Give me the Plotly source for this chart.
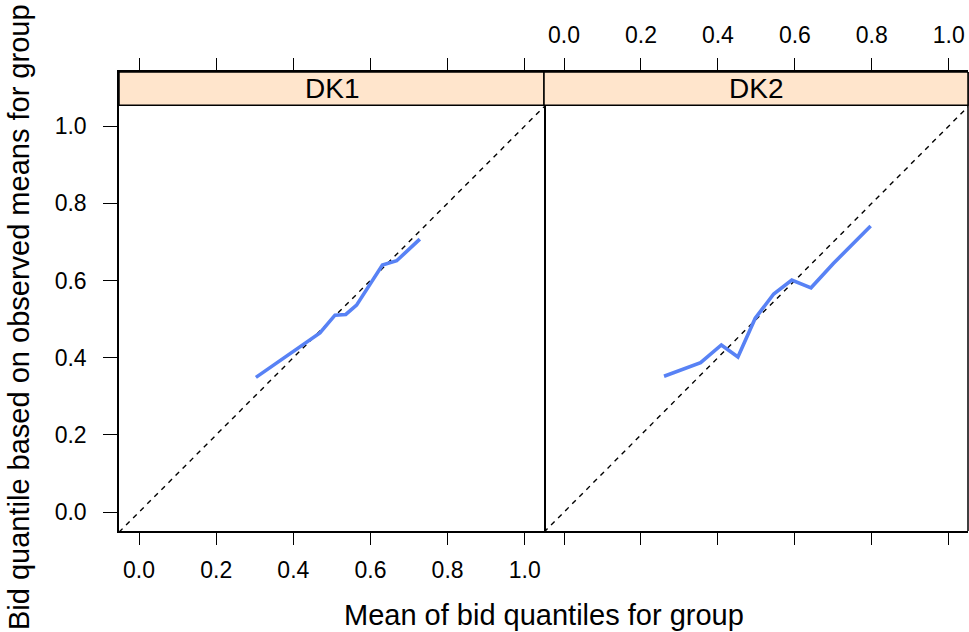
import plotly.graph_objects as go

# Quantile pairs per group: mean of bid quantiles (x) vs observed-mean-based quantile (y)
dk1_x = [0.303, 0.469, 0.508, 0.536, 0.564, 0.594, 0.631, 0.668, 0.728]
dk1_y = [0.349, 0.464, 0.510, 0.512, 0.536, 0.584, 0.640, 0.651, 0.707]

dk2_x = [0.260, 0.355, 0.409, 0.452, 0.497, 0.545, 0.592, 0.642, 0.700, 0.797]
dk2_y = [0.352, 0.387, 0.433, 0.402, 0.502, 0.565, 0.601, 0.581, 0.644, 0.741]

panels = ["DK1", "DK2"]
tick_vals = [0.0, 0.2, 0.4, 0.6, 0.8, 1.0]
tick_text = ["0.0", "0.2", "0.4", "0.6", "0.8", "1.0"]

W, H = 969, 632
X_LO, X_HI = -0.052, 1.050
Y_LO, Y_PANEL_TOP, Y_HI = -0.049, 1.054, 1.140   # panel area below, strip above Y_PANEL_TOP

FONT = "Liberation Sans, Arial, Helvetica, sans-serif"
LINE_COL = "#5882F5"
BORDER_W = 1.5

fig = go.Figure()

for i, (xs, ys) in enumerate([(dk1_x, dk1_y), (dk2_x, dk2_y)]):
    xa = "x" if i == 0 else "x2"
    ya = "y" if i == 0 else "y2"
    # reference line y = x
    fig.add_trace(go.Scatter(x=[X_LO, X_HI], y=[X_LO, X_HI], mode="lines",
                             line=dict(color="black", width=1.4, dash="5px,5px"),
                             xaxis=xa, yaxis=ya, showlegend=False, hoverinfo="skip"))
    fig.add_trace(go.Scatter(x=xs, y=ys, mode="lines",
                             line=dict(color=LINE_COL, width=3.6),
                             xaxis=xa, yaxis=ya, showlegend=False, name=panels[i]))

# invisible traces so the top overlay axes are drawn
fig.add_trace(go.Scatter(x=[0, 1], y=[0, 1], mode="none", xaxis="x3", yaxis="y",
                         showlegend=False, hoverinfo="skip"))
fig.add_trace(go.Scatter(x=[0, 1], y=[0, 1], mode="none", xaxis="x4", yaxis="y2",
                         showlegend=False, hoverinfo="skip"))

p1 = [119 / W, 544 / W]
p2 = [544 / W, 968 / W]
ydom = [(H - 531) / H, (H - 72) / H]

axis_common = dict(
    range=[X_LO, X_HI], tickvals=tick_vals, ticktext=tick_text,
    ticks="outside", ticklen=12, tickwidth=1.4, tickcolor="black",
    showgrid=False, zeroline=False, showline=True, linecolor="black", linewidth=BORDER_W,
    tickfont=dict(family=FONT, size=23, color="black"), ticklabelstandoff=6,
)

fig.update_layout(
    width=W, height=H,
    margin=dict(l=0, r=0, t=0, b=0),
    paper_bgcolor="white", plot_bgcolor="white",
    font=dict(family=FONT, color="black"),
    xaxis=dict(domain=p1, anchor="y", side="bottom", mirror=True, showticklabels=True, **axis_common),
    xaxis2=dict(domain=p2, anchor="y2", side="bottom", mirror=True, showticklabels=False, **axis_common),
    xaxis3=dict(overlaying="x", anchor="y", side="top", showticklabels=False, **axis_common),
    xaxis4=dict(overlaying="x2", anchor="y2", side="top", showticklabels=True, **axis_common),
    yaxis=dict(domain=ydom, anchor="x", range=[Y_LO, Y_HI], tickvals=tick_vals, ticktext=tick_text,
               ticks="outside", ticklen=14, tickwidth=1.4, tickcolor="black",
               showgrid=False, zeroline=False, showline=True, linecolor="black", linewidth=BORDER_W,
               mirror=True, tickfont=dict(family=FONT, size=23, color="black"),
               ticklabelstandoff=12),
    yaxis2=dict(domain=ydom, anchor="x2", range=[Y_LO, Y_HI], showticklabels=False, ticks="",
                showgrid=False, zeroline=False, showline=False),
)

# right border of the second panel (its left border is shared with the first panel)
fig.add_shape(type="line", xref="x2 domain", yref="y2", x0=1, x1=1, y0=Y_LO, y1=Y_HI,
              line=dict(color="black", width=BORDER_W), layer="above")

# strips with panel names
for i, name in enumerate(panels):
    xr = "x domain" if i == 0 else "x2 domain"
    yr = "y" if i == 0 else "y2"
    fig.add_shape(type="rect", xref=xr, yref=yr, x0=0, x1=1, y0=Y_PANEL_TOP, y1=Y_HI,
                  fillcolor="#ffe5cc", line=dict(color="black", width=BORDER_W), layer="above")
    fig.add_annotation(xref=xr, yref=yr, x=0.5, y=(Y_PANEL_TOP + Y_HI) / 2, text=name,
                       showarrow=False, font=dict(family=FONT, size=28, color="black"),
                       xanchor="center", yanchor="middle")

# axis titles
fig.add_annotation(xref="paper", yref="paper", x=544 / W, y=(H - 615) / H,
                   text="Mean of bid quantiles for group", showarrow=False,
                   font=dict(family=FONT, size=29, color="black"),
                   xanchor="center", yanchor="middle")
fig.add_annotation(xref="paper", yref="paper", x=19 / W, y=(H - 317) / H,
                   text="Bid quantile based on observed means for group", showarrow=False,
                   textangle=-90, font=dict(family=FONT, size=29, color="black"),
                   xanchor="center", yanchor="middle")

fig.write_html("out.html")
